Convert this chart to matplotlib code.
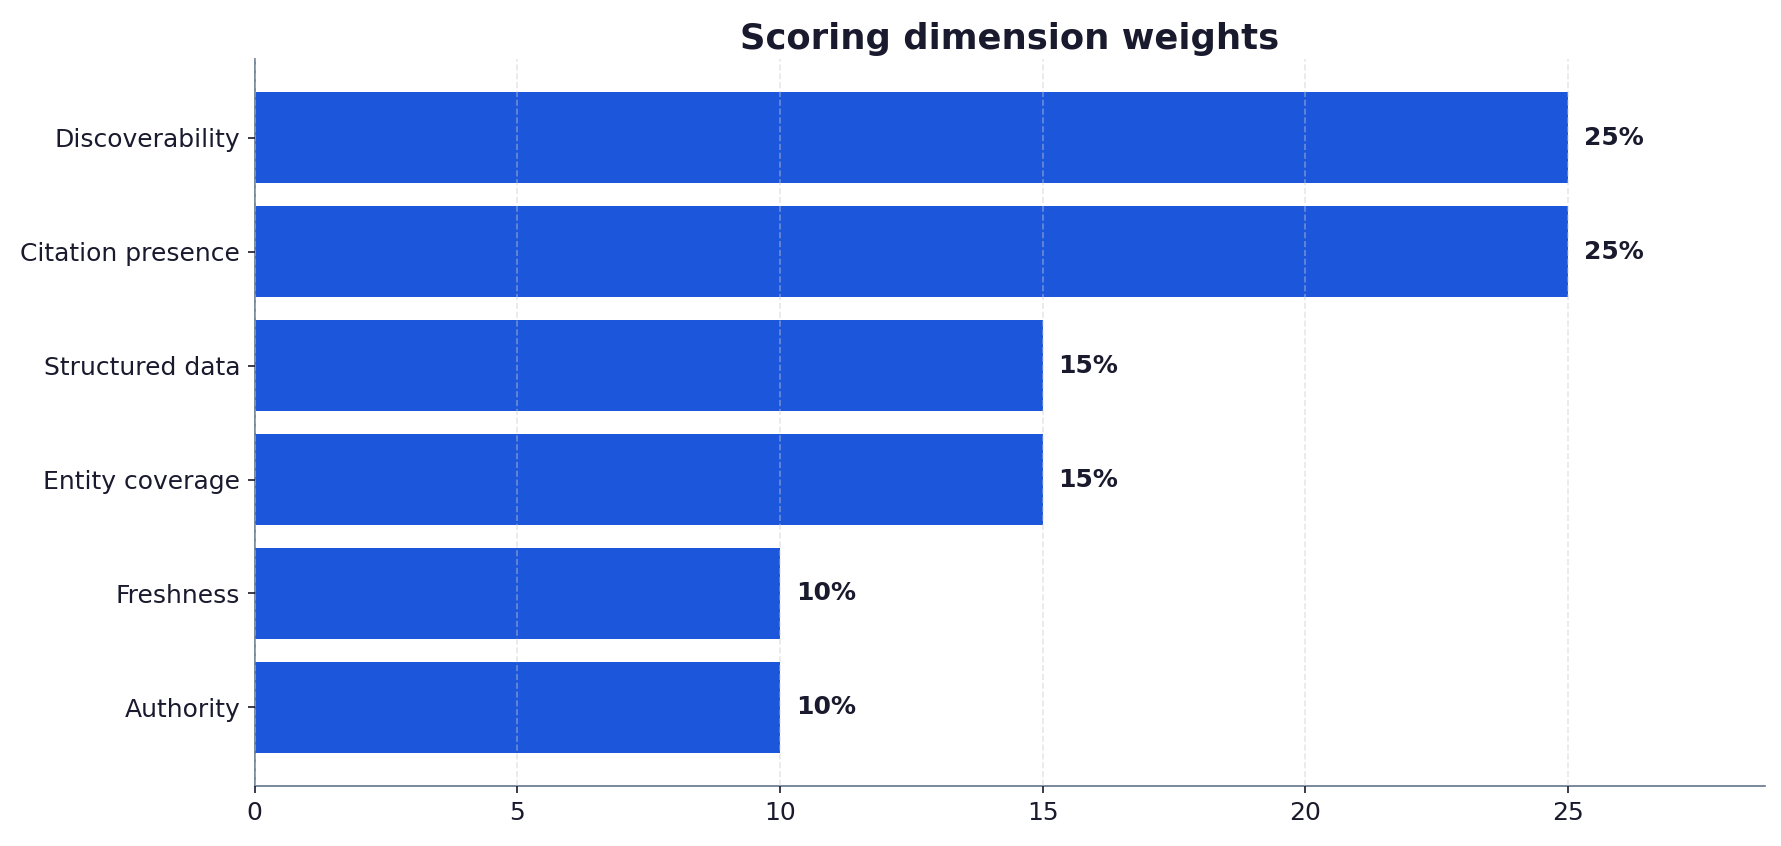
import matplotlib
matplotlib.use('Agg')
import matplotlib.pyplot as plt

# data, bottom to top
dimensions = ['Authority', 'Freshness', 'Entity coverage', 'Structured data',
              'Citation presence', 'Discoverability']
weights = [10, 10, 15, 15, 25, 25]

BAR = '#1c56db'
INK = '#1a1a2e'
SPINE = '#64748b'

fig, ax = plt.subplots(figsize=(1781 / 150, 846 / 150), dpi=150)
fig.subplots_adjust(left=0.143, right=0.991, top=0.93, bottom=0.071)

ax.barh(dimensions, weights, height=0.8, color=BAR, zorder=2)
for i, w in enumerate(weights):
    ax.text(w + 0.3, i, f'{w}%', va='center', ha='left', fontsize=12,
            fontweight='bold', color=INK)

ax.set_xlim(0, max(weights) * 1.15)
ax.set_title('Scoring dimension weights', fontsize=17, fontweight='bold',
             color=INK, pad=5)
ax.grid(axis='x', linestyle='--', color='#cccccc', alpha=0.45, zorder=3)
ax.set_axisbelow(False)
for s in ('top', 'right'):
    ax.spines[s].set_visible(False)
for s in ('left', 'bottom'):
    ax.spines[s].set_color(SPINE)
ax.tick_params(labelsize=12, colors=INK)

fig.savefig('out.png', dpi=150, facecolor='white')
